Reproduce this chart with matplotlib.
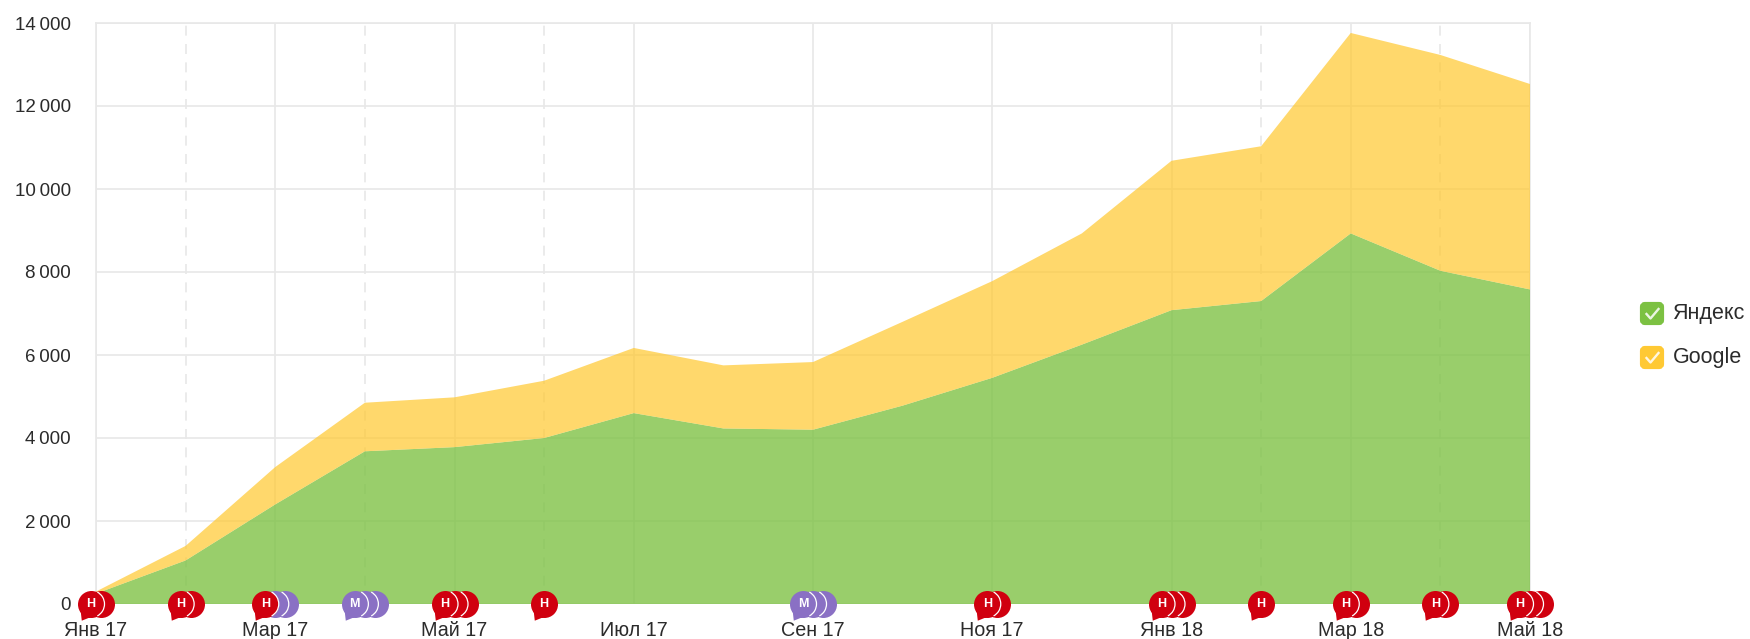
import matplotlib
matplotlib.use('Agg')
import matplotlib.pyplot as plt
from matplotlib.lines import Line2D
from matplotlib.patches import FancyBboxPatch
from matplotlib.path import Path
from matplotlib.transforms import IdentityTransform, offset_copy

plt.rcParams['font.family'] = ['Liberation Sans', 'DejaVu Sans']

# monthly values, Jan 17 .. May 18
months = list(range(17))
yandex = [250, 1050, 2400, 3680, 3780, 4000, 4600, 4230, 4200, 4780, 5450, 6250, 7080, 7300, 8930, 8030, 7580]
google = [50, 350, 900, 1170, 1200, 1380, 1570, 1520, 1630, 2020, 2330, 2680, 3600, 3730, 4830, 5200, 4950]

tick_months = [0, 2, 4, 6, 8, 10, 12, 14, 16]
tick_labels = ['Янв 17', 'Мар 17', 'Май 17', 'Июл 17', 'Сен 17', 'Ноя 17', 'Янв 18', 'Мар 18', 'Май 18']
dashed_months = [1, 3, 5, 13, 15]
y_ticks = [0, 2000, 4000, 6000, 8000, 10000, 12000, 14000]

# notes along the time axis: month, number of bubbles, letter per bubble (front first)
note_months = [0, 1, 2, 3, 4, 5, 8, 10, 12, 13, 14, 15, 16]
note_kinds = ['НН', 'НН', 'НММ', 'МММ', 'ННН', 'Н', 'МММ', 'НН', 'ННН', 'Н', 'НН', 'НН', 'ННН']

GREEN = '#7cc142'
YELLOW = '#ffc933'
RED = '#d0000f'
PURPLE = '#8a70c4'
GRID = '#e8e8e8'
TEXT = '#2b2b2b'
KIND_COLOR = {'Н': RED, 'М': PURPLE}

fig = plt.figure(figsize=(17.5, 6.39), dpi=100)
ax = fig.add_axes([96 / 1750, 1 - 604 / 639, 1434 / 1750, 581 / 639])

areas = ax.stackplot(months, yandex, google, colors=[GREEN, YELLOW], linewidth=0, zorder=3)
areas[0].set_alpha(0.78)
areas[1].set_alpha(0.72)

ax.set_xlim(0, 16)
ax.set_ylim(0, 14000)
ax.set_xticks(tick_months)
ax.set_xticklabels(tick_labels)
ax.set_yticks(y_ticks)
ax.set_yticklabels([f'{v:,}'.replace(',', '\u2009') for v in y_ticks])
ax.tick_params(axis='x', length=0, pad=12.5, labelsize=14.2, labelcolor=TEXT)
ax.tick_params(axis='y', length=0, pad=18, labelsize=13.5, labelcolor=TEXT)
ax.grid(True, color=GRID, linewidth=1.2, zorder=1)
ax.set_axisbelow(True)
ax.vlines(dashed_months, 0, 14000, color=GRID, linewidth=1.2, linestyles=(0, (6, 5)), zorder=1)

for name, spine in ax.spines.items():
    spine.set_color(GRID)
    spine.set_linewidth(1.2)
    spine.set_zorder(2)
ax.spines['bottom'].set_visible(False)

# speech bubble: circle with a little tail at lower left
circle = Path.unit_circle()
tail = Path([(-0.8, -0.5), (-0.72, -1.2), (-0.1, -0.95), (-0.8, -0.5)], closed=True)
bubble = Path.make_compound_path(circle, tail)
gap_arc = Path.arc(-62, 62)
R_PT = 13.5 * 72 / 100

for month, kinds in zip(note_months, note_kinds):
    n = len(kinds)
    # the stack is centred on its month, 10 px between bubbles
    shifts = [10 * i - 5 * (n - 1) for i in range(n)]
    for i in range(n - 1, -1, -1):
        tr = offset_copy(ax.transData, fig, x=shifts[i], y=0, units='dots')
        z = 6 + (n - i) * 0.1
        if i == 0:
            ax.scatter([month], [0], s=(2.4 * R_PT) ** 2, marker=bubble, color=KIND_COLOR[kinds[i]],
                       linewidths=0, transform=tr, clip_on=False, zorder=z)
        else:
            ax.scatter([month], [0], s=(2 * R_PT) ** 2, marker='o', color=KIND_COLOR[kinds[i]],
                       linewidths=0, transform=tr, clip_on=False, zorder=z)
        # thin white line where this bubble sits on the one behind it
        if i < n - 1:
            ax.scatter([month], [0], s=(2 * R_PT) ** 2, marker=gap_arc, facecolors='none', edgecolors='white',
                       linewidths=0.9, transform=tr, clip_on=False, zorder=z + 0.01)
    tr = offset_copy(ax.transData, fig, x=shifts[0], y=0, units='dots')
    ax.text(month, 0, kinds[0], color='white', fontsize=9, fontweight='bold', ha='center', va='center',
            transform=tr, clip_on=False, zorder=8)

# legend with check boxes, drawn in figure pixels
legend_names = ['Яндекс', 'Google']
legend_colors = [GREEN, YELLOW]
legend_tops = [302, 346]
for name, col, top in zip(legend_names, legend_colors, legend_tops):
    y0 = 639 - top - 23
    box = FancyBboxPatch((1642, y0 + 2), 20, 19, boxstyle='round,pad=0,rounding_size=3', mutation_aspect=1,
                         facecolor=col, edgecolor=col, linewidth=3, transform=IdentityTransform())
    fig.add_artist(box)
    fig.add_artist(Line2D([1646.5, 1650.5, 1658.5], [y0 + 11, y0 + 6.5, y0 + 16], color='white', alpha=0.85,
                          linewidth=1.7, transform=IdentityTransform()))
    fig.text(1673, y0 + 11, name, color=TEXT, fontsize=15.5, va='center', ha='left', transform=IdentityTransform())

fig.savefig('out.png', dpi=100, facecolor='white')
